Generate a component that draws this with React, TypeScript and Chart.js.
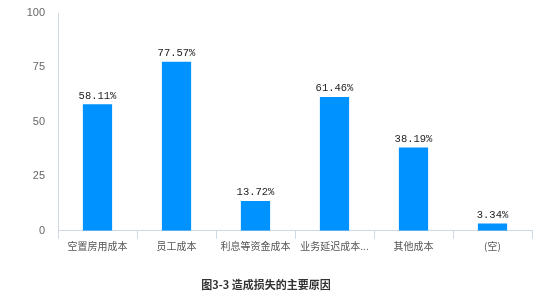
import React, { useEffect, useRef } from "react";
import { Chart, registerables } from "chart.js";

Chart.register(...registerables);

const categories = ["空置房用成本", "员工成本", "利息等资金成本", "业务延迟成本...", "其他成本", "(空)"];
const values = [58.11, 77.57, 13.72, 61.46, 38.19, 3.34];
const yTicks = [0, 25, 50, 75, 100];
const chartTitle = "图3-3 造成损失的主要原因";

const axisColor = "#cfd9e6";

const labelPlugin = {
  id: "barLabels",
  afterDatasetsDraw(chart: any) {
    const ctx = chart.ctx;
    const meta = chart.getDatasetMeta(0);
    ctx.save();
    ctx.font = "10.5px 'Liberation Mono', monospace";
    ctx.fillStyle = "#222";
    ctx.textAlign = "center";
    ctx.textBaseline = "bottom";
    meta.data.forEach((el: any, i: number) => {
      ctx.fillText(values[i].toFixed(2) + "%", el.x, el.y - 3);
    });
    ctx.restore();
  },
};

export default function App() {
  const ref = useRef<HTMLCanvasElement>(null);
  useEffect(() => {
    if (!ref.current) return;
    const chart = new Chart(ref.current, {
      type: "bar",
      data: {
        labels: categories,
        datasets: [
          {
            data: values,
            backgroundColor: "#0092ff",
            barPercentage: 0.37,
            categoryPercentage: 1,
          },
        ],
      },
      options: {
        responsive: false,
        animation: false,
        layout: { padding: { left: 0, right: 18, top: 13, bottom: 0 } },
        plugins: {
          legend: { display: false },
          tooltip: { enabled: false },
          title: {
            display: true,
            text: chartTitle,
            position: "bottom",
            color: "#333",
            font: { family: "'Noto Sans CJK SC'", size: 11, weight: "bold" },
            padding: { top: 10, bottom: 8 },
          },
        },
        scales: {
          x: {
            grid: {
              display: true,
              drawOnChartArea: false,
              drawTicks: true,
              tickLength: 8,
              color: axisColor,
              offset: true,
            },
            border: { display: true, color: axisColor },
            ticks: {
              color: "#555",
              padding: 1,
              font: { family: "'Noto Sans CJK SC'", size: 10 },
              maxRotation: 0,
              autoSkip: false,
            },
            afterFit: (scale: any) => {
              scale.height = 37;
            },
          },
          y: {
            min: 0,
            max: 100,
            afterBuildTicks: (scale: any) => {
              scale.ticks = yTicks.map((v) => ({ value: v }));
            },
            grid: { display: false, drawTicks: false },
            border: { display: true, color: axisColor },
            ticks: {
              color: "#666",
              padding: 13,
              font: { family: "'Liberation Sans'", size: 11 },
            },
            afterFit: (scale: any) => {
              scale.width = 58;
              scale.paddingTop = 0;
            },
          },
        },
      },
      plugins: [labelPlugin],
    });
    return () => chart.destroy();
  }, []);
  return (
    <canvas
      ref={ref}
      width={550}
      height={299}
      style={{ position: "absolute", left: 0, top: 0, width: 550, height: 299 }}
    />
  );
}
